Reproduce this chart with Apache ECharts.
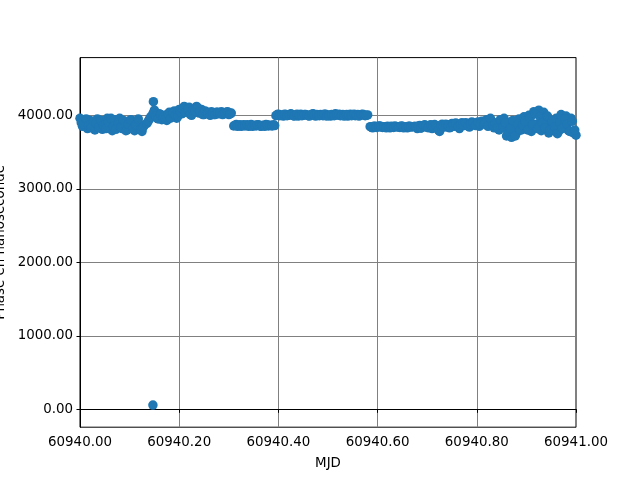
<!DOCTYPE html>
<html>
<head>
<meta charset="utf-8">
<script src="https://cdn.jsdelivr.net/npm/echarts@6/dist/echarts.min.js"></script>
<style>
html,body{margin:0;padding:0;background:#fff;}
#chart{width:640px;height:480px;}
</style>
</head>
<body>
<div id="chart"></div>
<script>
// Observations: [MJD, phase (ns)]
const segmentA = [
  [60940.000,3960],[60940.005,3850],[60940.010,3900],[60940.015,3820],[60940.020,3930],
  [60940.025,3880],[60940.030,3800],[60940.035,3950],[60940.040,3870],[60940.045,3810],
  [60940.050,3900],[60940.055,3960],[60940.060,3830],[60940.065,3790],[60940.070,3940],
  [60940.075,3880],[60940.080,3960],[60940.085,3820],[60940.090,3860],[60940.095,3800],
  [60940.100,3920],[60940.105,3850],[60940.110,3790],[60940.115,3900],[60940.120,3830],
  [60940.125,3780],[60940.130,3870]
];
const segmentA2 = [
  [60940.0025,3900],[60940.0075,3880],[60940.0125,3950],[60940.0175,3860],[60940.0225,3830],
  [60940.0275,3920],[60940.0325,3890],[60940.0375,3840],[60940.0425,3930],[60940.0475,3860],
  [60940.0525,3820],[60940.0575,3910],[60940.0625,3960],[60940.0675,3850],[60940.0725,3810],
  [60940.0775,3900],[60940.0825,3840],[60940.0875,3930],[60940.0925,3790],[60940.0975,3880],
  [60940.1025,3940],[60940.1075,3820],[60940.1125,3870],[60940.1175,3950],[60940.1225,3810],
  [60940.1275,3840]
];
const segmentB = [
  [60940.135,3890],[60940.140,3950],[60940.145,3990],[60940.148,4185],[60940.150,4070],
  [60940.155,3960],[60940.160,4020],[60940.165,3940],[60940.170,4000],[60940.175,3930],
  [60940.180,4040],[60940.185,3990],[60940.190,4060],[60940.195,3960],[60940.200,4080],
  [60940.205,4020],[60940.210,4120],[60940.215,4060],[60940.220,4110],[60940.225,4000],
  [60940.230,4050],[60940.235,4120],[60940.240,4030],[60940.245,4080],[60940.250,4010],
  [60940.255,4040],[60940.260,4020],[60940.265,4050],[60940.270,4010],[60940.275,4040],
  [60940.280,4020],[60940.285,4050],[60940.290,4020],[60940.295,4040],[60940.300,4010],
  [60940.305,4030]
];
const segmentB2 = [
  [60940.1375,3920],[60940.1425,3980],[60940.1475,4030],[60940.1525,3990],[60940.1575,3950],
  [60940.1625,4010],[60940.1675,3970],[60940.1725,3950],[60940.1775,4020],[60940.1825,3960],
  [60940.1875,4030],[60940.1925,4000],[60940.1975,3990],[60940.2025,4050],[60940.2075,4090],
  [60940.2125,4040],[60940.2175,4080],[60940.2225,4010],[60940.2275,4070],[60940.2325,4060],
  [60940.2375,4100],[60940.2425,4050],[60940.2475,4010],[60940.2525,4060],[60940.2575,4030],
  [60940.2625,4000],[60940.2675,4030],[60940.2725,4010],[60940.2775,4040],[60940.2825,4030],
  [60940.2875,4010],[60940.2925,4030],[60940.2975,4050],[60940.3025,4020]
];
const outliers = [[60940.147,58]];
const segmentC = [
  [60940.310,3855],[60940.315,3875],[60940.320,3860],[60940.325,3850],[60940.330,3870],
  [60940.335,3865],[60940.340,3850],[60940.345,3875],[60940.350,3860],[60940.355,3855],
  [60940.360,3870],[60940.365,3850],[60940.370,3865],[60940.375,3875],[60940.380,3855],
  [60940.385,3860],[60940.390,3870]
];
const segmentC2 = [
  [60940.3125,3865],[60940.3175,3850],[60940.3225,3870],[60940.3275,3860],[60940.3325,3855],
  [60940.3375,3870],[60940.3425,3860],[60940.3475,3850],[60940.3525,3865],[60940.3575,3870],
  [60940.3625,3855],[60940.3675,3860],[60940.3725,3850],[60940.3775,3870],[60940.3825,3865],
  [60940.3875,3855],[60940.3925,3860]
];
const segmentD = [
  [60940.395,3995],[60940.400,4015],[60940.405,4005],[60940.410,3990],[60940.415,4010],
  [60940.420,4000],[60940.425,4020],[60940.430,3995],[60940.435,4005],[60940.440,3990],
  [60940.445,4015],[60940.450,4000],[60940.455,4010],[60940.460,3995],[60940.465,4005],
  [60940.470,4020],[60940.475,3990],[60940.480,4000],[60940.485,4010],[60940.490,3995],
  [60940.495,4015],[60940.500,4005],[60940.505,3990],[60940.510,4000],[60940.515,4020],
  [60940.520,4005],[60940.525,3995],[60940.530,4010],[60940.535,4000],[60940.540,3990],
  [60940.545,4015],[60940.550,4005],[60940.555,3995],[60940.560,4010],[60940.565,4000],
  [60940.570,4015],[60940.575,3995],[60940.580,4005]
];
const segmentD2 = [
  [60940.3975,4010],[60940.4025,3995],[60940.4075,4000],[60940.4125,4015],[60940.4175,3995],
  [60940.4225,4005],[60940.4275,4010],[60940.4325,3990],[60940.4375,4015],[60940.4425,4000],
  [60940.4475,3995],[60940.4525,4010],[60940.4575,4005],[60940.4625,3990],[60940.4675,4015],
  [60940.4725,4000],[60940.4775,4010],[60940.4825,3995],[60940.4875,4005],[60940.4925,4015],
  [60940.4975,3990],[60940.5025,4000],[60940.5075,4010],[60940.5125,3995],[60940.5175,4005],
  [60940.5225,4015],[60940.5275,4000],[60940.5325,3990],[60940.5375,4010],[60940.5425,4005],
  [60940.5475,3995],[60940.5525,4015],[60940.5575,4000],[60940.5625,3990],[60940.5675,4010],
  [60940.5725,4005],[60940.5775,4000]
];
const segmentE = [
  [60940.585,3845],[60940.590,3830],[60940.595,3850],[60940.600,3840],[60940.605,3855],
  [60940.610,3835],[60940.615,3845],[60940.620,3850],[60940.625,3830],[60940.630,3840],
  [60940.635,3855],[60940.640,3845],[60940.645,3835],[60940.650,3850],[60940.655,3840],
  [60940.660,3830],[60940.665,3850],[60940.670,3845]
];
const segmentE2 = [
  [60940.5875,3840],[60940.5925,3850],[60940.5975,3835],[60940.6025,3855],[60940.6075,3840],
  [60940.6125,3845],[60940.6175,3830],[60940.6225,3845],[60940.6275,3850],[60940.6325,3835],
  [60940.6375,3845],[60940.6425,3840],[60940.6475,3855],[60940.6525,3830],[60940.6575,3845],
  [60940.6625,3850],[60940.6675,3840]
];
const segmentF = [
  [60940.675,3850],[60940.680,3820],[60940.685,3860],[60940.690,3835],[60940.695,3870],
  [60940.700,3840],[60940.705,3865],[60940.710,3820],[60940.715,3875],[60940.720,3850],
  [60940.725,3780],[60940.730,3880],[60940.735,3840],[60940.740,3870],[60940.745,3830],
  [60940.750,3890],[60940.755,3850],[60940.760,3880],[60940.765,3820],[60940.770,3900],
  [60940.775,3860],[60940.780,3890],[60940.785,3840],[60940.790,3910],[60940.795,3870],
  [60940.800,3900],[60940.805,3850],[60940.810,3920]
];
const segmentF2 = [
  [60940.6775,3840],[60940.6825,3855],[60940.6875,3825],[60940.6925,3860],[60940.6975,3850],
  [60940.7025,3830],[60940.7075,3870],[60940.7125,3845],[60940.7175,3860],[60940.7225,3800],
  [60940.7275,3860],[60940.7325,3850],[60940.7375,3880],[60940.7425,3860],[60940.7475,3840],
  [60940.7525,3870],[60940.7575,3895],[60940.7625,3850],[60940.7675,3880],[60940.7725,3870],
  [60940.7775,3900],[60940.7825,3860],[60940.7875,3880],[60940.7925,3895],[60940.7975,3860],
  [60940.8025,3910],[60940.8075,3880]
];
const segmentG = [
  [60940.815,3880],[60940.820,3940],[60940.825,3860],[60940.830,3920],[60940.835,3830],
  [60940.840,3900],[60940.845,3800],[60940.850,3880],[60940.855,3960],[60940.860,3720],
  [60940.865,3900],[60940.870,3700],[60940.875,3850],[60940.880,3760],[60940.885,3950],
  [60940.890,3800],[60940.895,3980],[60940.900,3840],[60940.905,4000],[60940.910,3780],
  [60940.915,4050],[60940.920,3880],[60940.925,4070],[60940.930,3790],[60940.935,4040],
  [60940.940,3920],[60940.945,3760],[60940.950,3870],[60940.955,3800],[60940.960,3960],
  [60940.965,3780],[60940.970,4010],[60940.975,3850],[60940.980,3990],[60940.985,3790],
  [60940.990,3960],[60940.995,3760],[60941.000,3730]
];
const segmentG2 = [
  [60940.8175,3900],[60940.8225,3850],[60940.8275,3960],[60940.8325,3870],[60940.8375,3890],
  [60940.8425,3820],[60940.8475,3940],[60940.8525,3840],[60940.8575,3900],[60940.8625,3780],
  [60940.8675,3820],[60940.8725,3930],[60940.8775,3720],[60940.8825,3880],[60940.8875,3800],
  [60940.8925,3870],[60940.8975,3920],[60940.9025,3800],[60940.9075,3960],[60940.9125,3870],
  [60940.9175,4020],[60940.9225,3820],[60940.9275,3980],[60940.9325,3900],[60940.9375,3830],
  [60940.9425,3990],[60940.9475,3800],[60940.9525,3920],[60940.9575,3840],[60940.9625,3750],
  [60940.9675,3900],[60940.9725,3820],[60940.9775,3950],[60940.9825,3880],[60940.9875,3780],
  [60940.9925,3920],[60940.9975,3800]
];
const yTicks = [0, 1000, 2000, 3000, 4000];
const xLabel = 'MJD';
const yLabel = 'Phase en nanoseconde';

const allPoints = [].concat(
  segmentA, segmentA2, segmentB, segmentB2, outliers, segmentC, segmentC2,
  segmentD, segmentD2, segmentE, segmentE2, segmentF, segmentF2, segmentG, segmentG2
);

const chart = echarts.init(document.getElementById('chart'), null, {renderer: 'canvas'});
const font = 'DejaVu Sans';
chart.setOption({
  animation: false,
  backgroundColor: '#ffffff',
  grid: {left: 80, right: 64, top: 57.6, bottom: 52.8, containLabel: false, outerBoundsMode: 'none',
         show: true, borderColor: '#000', borderWidth: 1, backgroundColor: 'transparent'},
  xAxis: {
    type: 'value', min: 60940, max: 60941, interval: 0.2,
    name: xLabel, nameLocation: 'middle', nameGap: 30,
    nameTextStyle: {fontFamily: font, fontSize: 13.4, color: '#000'},
    axisLine: {show: true, lineStyle: {color: '#000', width: 1}},
    axisTick: {show: true, inside: false, length: 3.5, lineStyle: {color: '#000', width: 1}},
    axisLabel: {margin: 8.5, fontFamily: font, fontSize: 13.4, color: '#000', formatter: v => v.toFixed(2)},
    splitLine: {show: true, lineStyle: {color: '#808080', width: 1}}
  },
  yAxis: {
    type: 'value', min: -243, max: 4785,
    name: yLabel, nameLocation: 'middle', nameGap: 69, nameRotate: 90,
    nameTextStyle: {fontFamily: font, fontSize: 13.4, color: '#000'},
    axisLine: {show: true, lineStyle: {color: '#000', width: 1}},
    axisTick: {show: true, inside: false, length: 3.5, lineStyle: {color: '#000', width: 1}, customValues: yTicks},
    axisLabel: {margin: 7, fontFamily: font, fontSize: 13.4, color: '#000', customValues: yTicks, formatter: v => v.toFixed(2)},
    splitLine: {show: true, lineStyle: {color: '#808080', width: 1}}
  },
  series: [{
    type: 'scatter',
    data: allPoints,
    symbol: 'circle',
    symbolSize: 9.5,
    itemStyle: {color: '#1f77b4', opacity: 1},
    emphasis: {disabled: true}
  }]
});
</script>
</body>
</html>
